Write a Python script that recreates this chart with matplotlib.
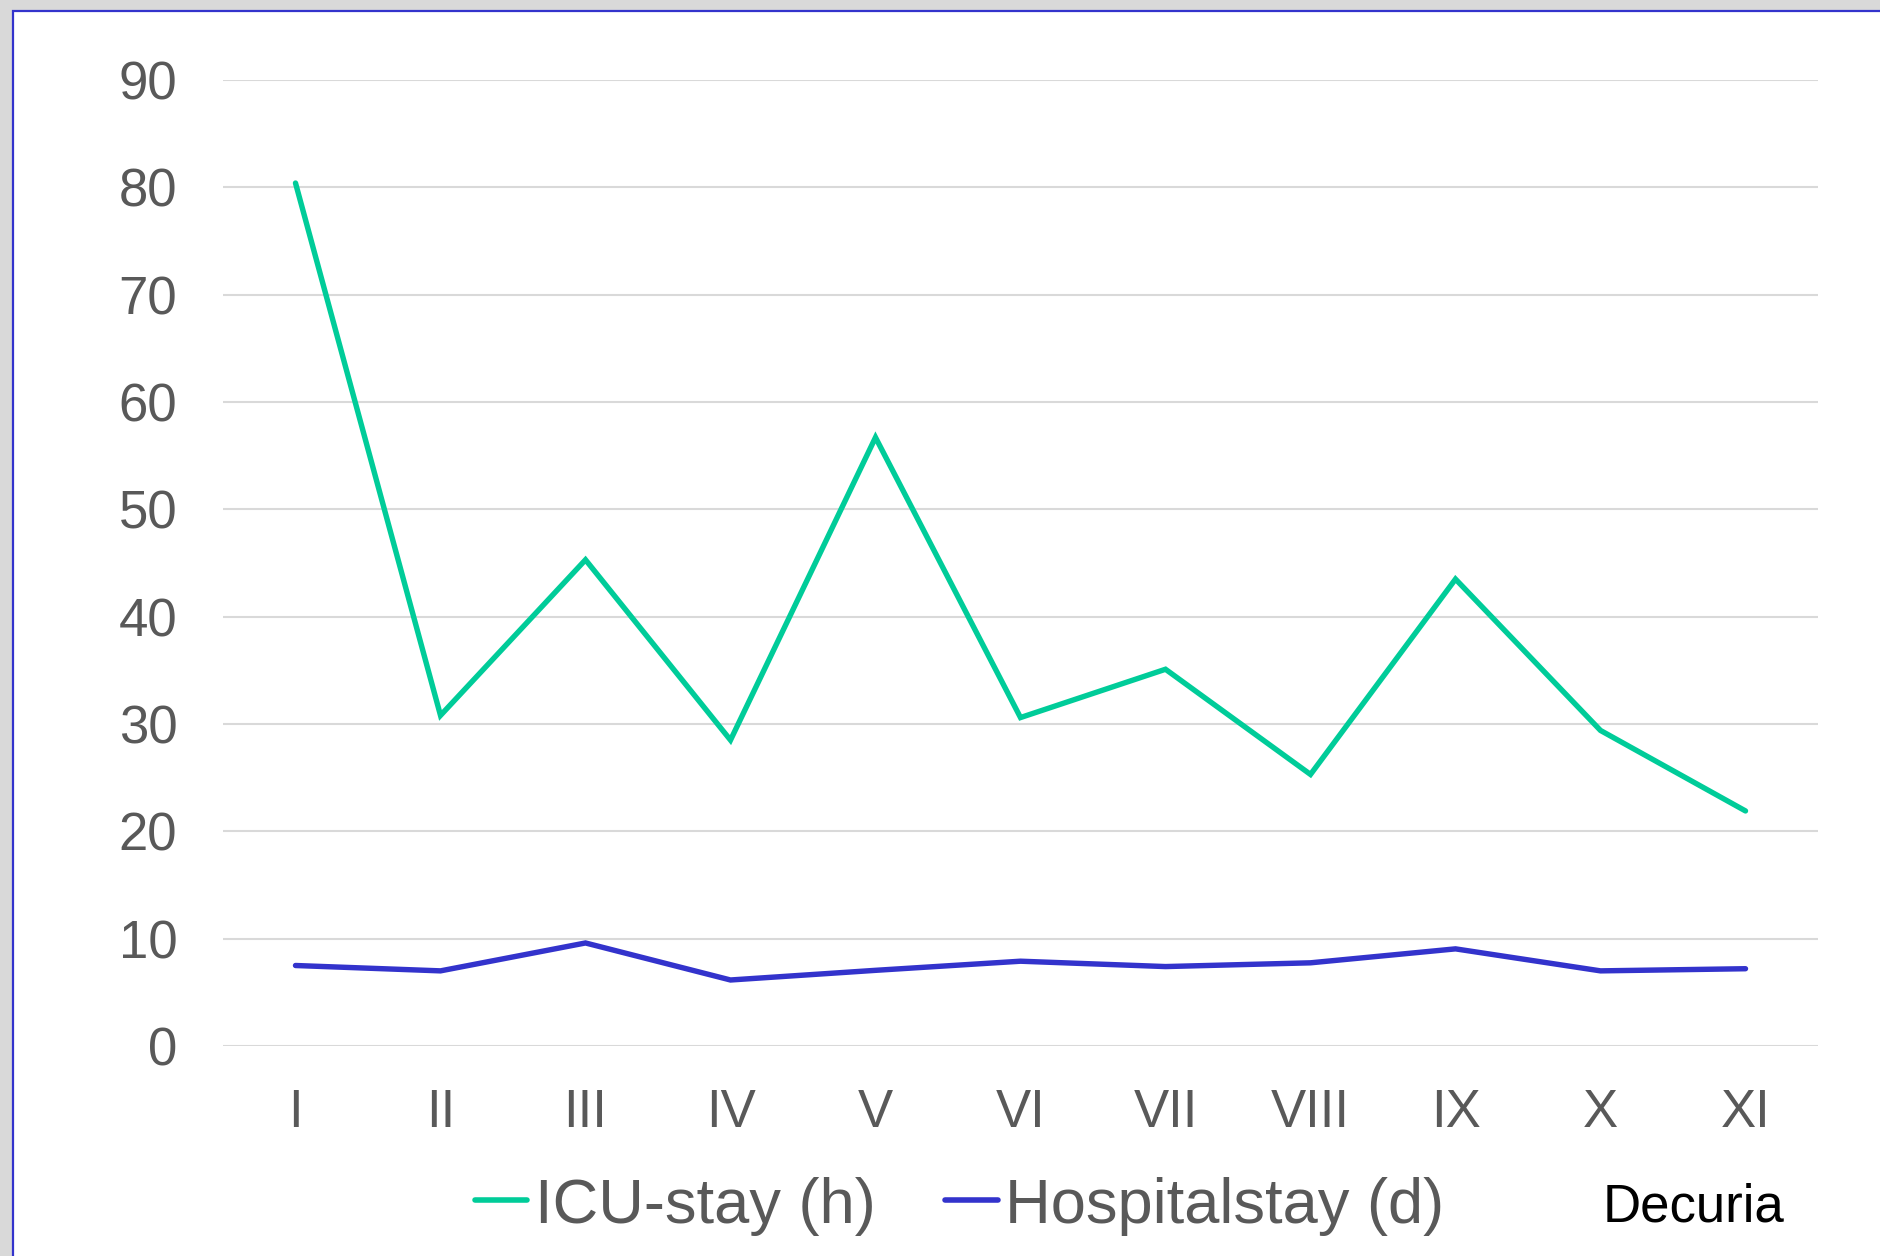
import matplotlib
matplotlib.use("Agg")
import matplotlib.pyplot as plt
from matplotlib.patches import Rectangle

categories = ["I", "II", "III", "IV", "V", "VI", "VII", "VIII", "IX", "X", "XI"]
icu_stay_h = [80.4, 30.8, 45.3, 28.5, 56.7, 30.6, 35.1, 25.3, 43.5, 29.4, 21.9]
hospital_stay_d = [7.5, 7.0, 9.6, 6.15, 7.05, 7.9, 7.4, 7.75, 9.05, 7.0, 7.2]
series_labels = ["ICU-stay (h)", "Hospitalstay (d)"]
y_ticks = [0, 10, 20, 30, 40, 50, 60, 70, 80, 90]

plt.rcParams['font.family'] = ['Liberation Sans', 'DejaVu Sans']

W, H = 1880, 1256
fig = plt.figure(figsize=(W / 100, H / 100), dpi=100)
fig.patch.set_facecolor("#d9d9d9")

# white panel with blue border
panel = Rectangle((13 / W, -0.01), 1.02, 1 - 11 / H + 0.01, transform=fig.transFigure,
                  facecolor="white", edgecolor="#3333cc", linewidth=1.6, zorder=-10)
fig.patches.append(panel)

ax = fig.add_axes([223 / W, 1 - 1046 / H, (1818 - 223) / W, (1046 - 80) / H])
ax.set_facecolor("none")
ax.set_zorder(5)

x = list(range(len(categories)))
green = "#00cc99"
blue = "#3333cc"
l1, = ax.plot(x, icu_stay_h, color=green, lw=3.9, solid_capstyle="round",
              solid_joinstyle="miter", zorder=3)
l2, = ax.plot(x, hospital_stay_d, color=blue, lw=3.9, solid_capstyle="round",
              solid_joinstyle="miter", zorder=3)

ax.set_xlim(-0.5, len(categories) - 0.5)
ax.set_ylim(0, 90)
ax.set_yticks(y_ticks)
ax.set_yticklabels([str(v) for v in y_ticks])
ax.set_xticks(x)
ax.set_xticklabels(categories)
ax.grid(axis="y", color="#d9d9d9", lw=1.5)
ax.set_axisbelow(True)
for s in ax.spines.values():
    s.set_visible(False)
ax.tick_params(axis="both", length=0, labelsize=38, colors="#595959")
ax.tick_params(axis="y", pad=33)
ax.tick_params(axis="x", pad=30)

leg = fig.legend([l1, l2], series_labels, loc="center left",
                 bbox_to_anchor=(475 / W, 1 - 1206 / H), ncol=2, frameon=False,
                 fontsize=45.5, handlelength=0.83, handletextpad=0.12,
                 columnspacing=1.1, borderpad=0, borderaxespad=0)
for t in leg.get_texts():
    t.set_color("#595959")
for h in leg.legend_handles:
    h.set_linewidth(4.0)

fig.text(1603 / W, 1 - 1222 / H, "Decuria", fontsize=38, color="black",
         ha="left", va="baseline")

fig.savefig("out.png", dpi=100, facecolor=fig.get_facecolor())
